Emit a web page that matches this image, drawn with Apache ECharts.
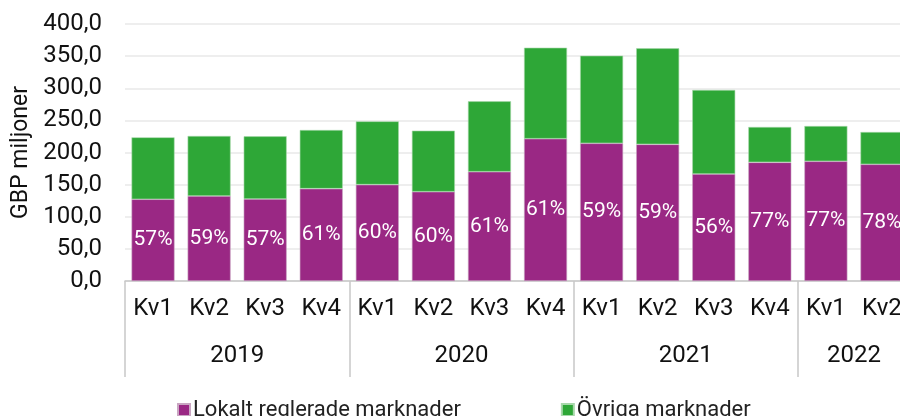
<!DOCTYPE html>
<html>
<head>
<meta charset="utf-8">
<script src="https://cdn.jsdelivr.net/npm/echarts@6/dist/echarts.min.js"></script>
<style>
  html, body { margin: 0; padding: 0; background: #fff; }
  #chart { width: 900px; height: 416px; }
</style>
</head>
<body>
<div id="chart"></div>
<script>
// kvartal och år
var quarters = ['Kv1','Kv2','Kv3','Kv4','Kv1','Kv2','Kv3','Kv4','Kv1','Kv2','Kv3','Kv4','Kv1','Kv2'];
var years = ['2019','2020','2021','2022'];
var yearStart = [0, 4, 8, 12];    // första kvartalet i varje år
var yearMid = [2, 6, 10, 13];     // mitt på årsgruppen

// GBP miljoner
var lokalt = [127.2, 132.3, 127.6, 143.7, 150.0, 139.0, 170.1, 221.5, 214.3, 212.7, 166.5, 184.7, 186.3, 181.6];
var ovriga = [96.4, 93.4, 97.6, 91.3, 98.5, 95.0, 109.6, 141.6, 136.4, 149.5, 130.8, 55.0, 54.9, 50.3];
var andel = [57, 59, 57, 61, 60, 60, 61, 61, 59, 59, 56, 77, 77, 78];

var FONT = 'Roboto';

var chart = echarts.init(document.getElementById('chart'));
chart.setOption({
	animation: false,
	textStyle: { fontFamily: FONT },
	grid: {
		left: 125,
		width: 785,
		top: 24,
		bottom: 135,
		outerBoundsMode: 'none'
	},
	legend: {
		data: ['Lokalt reglerade marknader', 'Övriga marknader'],
		left: 172,
		top: 394,
		itemWidth: 12,
		itemHeight: 12,
		itemGap: 100,
		icon: 'rect',
		textStyle: { fontSize: 22, color: '#222', fontFamily: FONT, padding: [0, 0, 0, -2] }
	},
	xAxis: [{
		type: 'category',
		data: quarters,
		axisLine: { lineStyle: { color: '#c8c8c8', width: 1.5 } },
		axisTick: { show: false },
		axisLabel: { interval: 0, fontSize: 24, color: '#111', margin: 16, fontFamily: FONT }
	}, {
		type: 'value',
		position: 'bottom',
		min: 0,
		max: quarters.length,
		axisLine: { show: false },
		splitLine: { show: false },
		axisTick: {
			show: true,
			length: 96,
			customValues: yearStart,
			lineStyle: { color: '#c8c8c8', width: 1.5 }
		},
		axisLabel: {
			customValues: yearMid,
			fontSize: 24,
			color: '#111',
			margin: 63,
			fontFamily: FONT,
			formatter: function (v) {
				var i = yearMid.indexOf(v);
				return i >= 0 ? years[i] : '';
			}
		}
	}],
	yAxis: {
		type: 'value',
		min: 0,
		max: 400,
		interval: 50,
		name: 'GBP miljoner',
		nameLocation: 'middle',
		nameGap: 92,
		nameTextStyle: { fontSize: 23, color: '#111', fontFamily: FONT },
		axisLine: { show: false },
		axisTick: { show: false },
		axisLabel: {
			fontSize: 24,
			color: '#111',
			margin: 23,
			fontFamily: FONT,
			formatter: function (v) { return v.toFixed(1).replace('.', ','); }
		},
		splitLine: { lineStyle: { color: '#e8e8e8', width: 1.5 } }
	},
	series: [{
		name: 'Lokalt reglerade marknader',
		type: 'bar',
		stack: 'tot',
		xAxisIndex: 0,
		barWidth: 43,
		data: lokalt,
		itemStyle: { color: '#9a2884', borderColor: '#c9a6c2', borderWidth: 0.6 },
		label: {
			show: true,
			position: 'inside',
			color: '#fff',
			fontSize: 21,
			fontFamily: FONT,
			formatter: function (p) { return andel[p.dataIndex] + '%'; }
		}
	}, {
		name: 'Övriga marknader',
		type: 'bar',
		stack: 'tot',
		xAxisIndex: 0,
		barWidth: 43,
		data: ovriga,
		itemStyle: { color: '#2ea737', borderColor: '#a8d8ab', borderWidth: 0.6 }
	}]
});
</script>
</body>
</html>
